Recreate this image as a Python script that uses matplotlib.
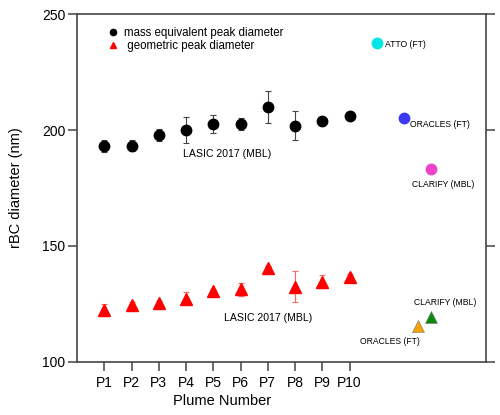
import numpy as np
import matplotlib.pyplot as plt
from matplotlib.lines import Line2D

plt.rcParams['font.family'] = ['Liberation Sans', 'DejaVu Sans']

# plume data (LASIC 2017)
plumes = np.arange(1, 11)
plume_labels = ['P1', 'P2', 'P3', 'P4', 'P5', 'P6', 'P7', 'P8', 'P9', 'P10']
mass_d = [193.2, 193.2, 197.8, 200.0, 202.6, 202.6, 210.0, 201.9, 204.0, 206.0]
mass_err = [2.6, 2.4, 2.5, 5.5, 4.0, 2.6, 7.0, 6.3, 0.8, 0.8]
geo_d = [122.4, 124.5, 125.6, 127.3, 130.7, 131.3, 140.7, 132.5, 134.6, 136.5]
geo_err = [2.7, 1.5, 0.8, 2.7, 0.8, 2.7, 0.8, 6.5, 2.7, 1.5]

# other campaigns
camp_circ_x = [11.0, 12.0, 13.0]
camp_circ_y = [237.4, 205.0, 183.0]
camp_circ_c = ['#00e6e6', '#3a3af5', '#ee44cc']
camp_circ_lab = ['ATTO (FT)', 'ORACLES (FT)', 'CLARIFY (MBL)']
camp_tri_x = [12.5, 13.0]
camp_tri_y = [115.5, 119.5]
camp_tri_c = ['#f5a300', '#0a8a0a']
camp_tri_lab = ['ORACLES (FT)', 'CLARIFY (MBL)']

fig = plt.figure(figsize=(5, 4.15), dpi=100)
ax = fig.add_axes([0.154, 0.128, 0.818, 0.838])

ax.errorbar(plumes, mass_d, yerr=mass_err, fmt='o', color='black', ms=7.5,
            ecolor='#444444', elinewidth=0.8, capsize=2.5, capthick=0.8)
ax.errorbar(plumes, geo_d, yerr=geo_err, fmt='^', color='red', ms=8.5,
            ecolor='#ff6666', elinewidth=0.8, capsize=2.5, capthick=0.8)

for x, y, c in zip(camp_circ_x, camp_circ_y, camp_circ_c):
    ax.plot(x, y, 'o', color=c, ms=7.5)
for x, y, c in zip(camp_tri_x, camp_tri_y, camp_tri_c):
    ax.plot(x, y, '^', color=c, ms=8.5, mec='#777777', mew=0.4)

fs = 7.6
fs2 = 6.2
ax.text(5.52, 189.7, 'LASIC 2017 (MBL)', fontsize=fs, ha='center', va='center')
ax.text(7.0, 119, 'LASIC 2017 (MBL)', fontsize=fs, ha='center', va='center')
ax.text(11.29, 237.1, camp_circ_lab[0], fontsize=fs2, ha='left', va='center')
ax.text(12.21, 202.2, camp_circ_lab[1], fontsize=fs2, ha='left', va='center')
ax.text(12.28, 176.3, camp_circ_lab[2], fontsize=fs2, ha='left', va='center')
ax.text(10.38, 108.6, camp_tri_lab[0], fontsize=fs2, ha='left', va='center')
ax.text(12.36, 125.4, camp_tri_lab[1], fontsize=fs2, ha='left', va='center')

handles = [Line2D([], [], marker='o', color='black', ls='none', ms=4.5),
           Line2D([], [], marker='^', color='red', ls='none', ms=5)]
ax.legend(handles, ['mass equivalent peak diameter', ' geometric peak diameter'],
          loc='upper left', bbox_to_anchor=(0.049, 0.992), frameon=False,
          fontsize=8.3, handletextpad=0.4, labelspacing=0.05, handlelength=1.0)

ax.set_xlim(0, 15)
ax.set_ylim(100, 250)
ax.set_xticks(plumes)
ax.set_xticklabels(plume_labels)
ax.set_yticks([100, 150, 200, 250])
ax.tick_params(axis='both', direction='out', length=6.5, width=1.1,
               color='#444444', labelsize=10)
ax.tick_params(axis='y', right=True, pad=2)
for s in ax.spines.values():
    s.set_color('#444444')
    s.set_linewidth(1.2)

ax.set_ylabel('rBC diameter (nm)', fontsize=10.5)
ax.set_xlabel('Plume Number', fontsize=10.5)
ax.yaxis.set_label_coords(-0.132, 0.5)
ax.xaxis.set_label_coords(0.355, -0.093)

fig.savefig('out.png', dpi=100)
